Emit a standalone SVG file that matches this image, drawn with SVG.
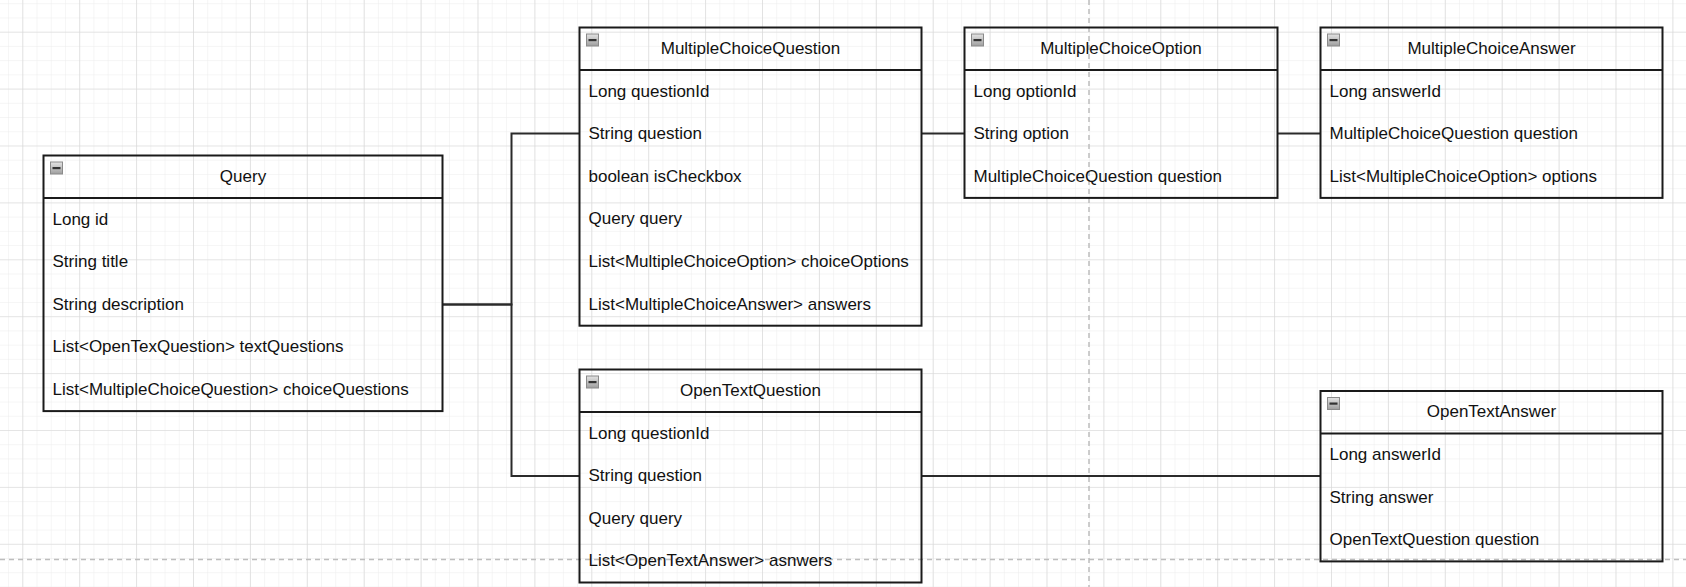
<svg xmlns="http://www.w3.org/2000/svg" width="1686" height="587" viewBox="0 0 1686 587">
  <defs>
    <pattern id="minor" x="22.3" y="31.7" width="14.225" height="14.225" patternUnits="userSpaceOnUse">
      <path d="M0 0 H14.225 M0 0 V14.225" fill="none" stroke="#ececec" stroke-width="1"/>
    </pattern>
    <pattern id="major" x="22.3" y="31.7" width="56.9" height="56.9" patternUnits="userSpaceOnUse">
      <path d="M0 0 H56.9 M0 0 V56.9" fill="none" stroke="#d6d6d6" stroke-width="1.2"/>
    </pattern>
    <linearGradient id="iconGrad" x1="0" y1="0" x2="0" y2="1">
      <stop offset="0" stop-color="#e4e4e4"/>
      <stop offset="1" stop-color="#9e9e9e"/>
    </linearGradient>
    <g id="minus">
      <rect x="0.5" y="0.5" width="12" height="12" fill="url(#iconGrad)" stroke="#8a8a8a" stroke-width="1"/>
      <rect x="2.5" y="5.5" width="8" height="2.2" fill="#333"/>
    </g>
  </defs>
  <style>
    .box { fill: none; stroke: #1a1a1a; stroke-width: 2; }
    .sep { stroke: #1a1a1a; stroke-width: 2; }
    .title { font-family: "Liberation Sans", Arial, sans-serif; font-size: 17px; fill: #111; text-anchor: middle; }
    .field { font-family: "Liberation Sans", Arial, sans-serif; font-size: 17px; fill: #111; }
    .conn { fill: none; stroke: #2a2a2a; stroke-width: 2; }
    .pb { fill: none; stroke: #bdbdbd; stroke-width: 1.5; stroke-dasharray: 5 4; }
  </style>

  <rect x="0" y="0" width="1686" height="587" fill="#ffffff"/>
  <rect x="0" y="0" width="1686" height="587" fill="url(#minor)"/>
  <rect x="0" y="0" width="1686" height="587" fill="url(#major)"/>
  <g id="page-breaks">
    <path class="pb" d="M1089 0 V587"/>
    <path class="pb" d="M0 559.5 H1686"/>
  </g>

  <g id="connectors">
    <path class="conn" d="M443 304.5 H511.5 V133.5 H579.5"/>
    <path class="conn" d="M443 304.5 H511.5 V476 H579.5"/>
    <path class="conn" d="M921.5 133.5 H964.5"/>
    <path class="conn" d="M1277.5 133.5 H1320.5"/>
    <path class="conn" d="M921.5 476 H1320.5"/>
  </g>

  <g id="Query">
    <rect class="box" x="43.5" y="155.5" width="399" height="255.6"/>
    <line class="sep" x1="43.5" y1="198.1" x2="442.5" y2="198.1"/>
    <use href="#minus" x="50" y="161.5"/>
    <text class="title" x="243" y="181.5">Query</text>
    <text class="field" x="52.5" y="224.6">Long id</text>
    <text class="field" x="52.5" y="267.2">String title</text>
    <text class="field" x="52.5" y="309.8">String description</text>
    <text class="field" x="52.5" y="352.4">List&lt;OpenTexQuestion&gt; textQuestions</text>
    <text class="field" x="52.5" y="395">List&lt;MultipleChoiceQuestion&gt; choiceQuestions</text>
  </g>

  <g id="MultipleChoiceQuestion">
    <rect class="box" x="579.5" y="27.5" width="342" height="298.2"/>
    <line class="sep" x1="579.5" y1="70.1" x2="921.5" y2="70.1"/>
    <use href="#minus" x="586" y="33.5"/>
    <text class="title" x="750.5" y="53.5">MultipleChoiceQuestion</text>
    <text class="field" x="588.5" y="96.6">Long questionId</text>
    <text class="field" x="588.5" y="139.2">String question</text>
    <text class="field" x="588.5" y="181.8">boolean isCheckbox</text>
    <text class="field" x="588.5" y="224.4">Query query</text>
    <text class="field" x="588.5" y="267">List&lt;MultipleChoiceOption&gt; choiceOptions</text>
    <text class="field" x="588.5" y="309.6">List&lt;MultipleChoiceAnswer&gt; answers</text>
  </g>

  <g id="MultipleChoiceOption">
    <rect class="box" x="964.5" y="27.5" width="313" height="170.4"/>
    <line class="sep" x1="964.5" y1="70.1" x2="1277.5" y2="70.1"/>
    <use href="#minus" x="971" y="33.5"/>
    <text class="title" x="1121" y="53.5">MultipleChoiceOption</text>
    <text class="field" x="973.5" y="96.6">Long optionId</text>
    <text class="field" x="973.5" y="139.2">String option</text>
    <text class="field" x="973.5" y="181.8">MultipleChoiceQuestion question</text>
  </g>

  <g id="MultipleChoiceAnswer">
    <rect class="box" x="1320.5" y="27.5" width="342" height="170.4"/>
    <line class="sep" x1="1320.5" y1="70.1" x2="1662.5" y2="70.1"/>
    <use href="#minus" x="1327" y="33.5"/>
    <text class="title" x="1491.5" y="53.5">MultipleChoiceAnswer</text>
    <text class="field" x="1329.5" y="96.6">Long answerId</text>
    <text class="field" x="1329.5" y="139.2">MultipleChoiceQuestion question</text>
    <text class="field" x="1329.5" y="181.8">List&lt;MultipleChoiceOption&gt; options</text>
  </g>

  <g id="OpenTextQuestion">
    <rect class="box" x="579.5" y="369.5" width="342" height="213"/>
    <line class="sep" x1="579.5" y1="412.1" x2="921.5" y2="412.1"/>
    <use href="#minus" x="586" y="375.5"/>
    <text class="title" x="750.5" y="395.5">OpenTextQuestion</text>
    <text class="field" x="588.5" y="438.6">Long questionId</text>
    <text class="field" x="588.5" y="481.2">String question</text>
    <text class="field" x="588.5" y="523.8">Query query</text>
    <text class="field" x="588.5" y="566.4">List&lt;OpenTextAnswer&gt; asnwers</text>
  </g>

  <g id="OpenTextAnswer">
    <rect class="box" x="1320.5" y="391" width="342" height="170.4"/>
    <line class="sep" x1="1320.5" y1="433.6" x2="1662.5" y2="433.6"/>
    <use href="#minus" x="1327" y="397"/>
    <text class="title" x="1491.5" y="417">OpenTextAnswer</text>
    <text class="field" x="1329.5" y="460.1">Long answerId</text>
    <text class="field" x="1329.5" y="502.7">String answer</text>
    <text class="field" x="1329.5" y="545.3">OpenTextQuestion question</text>
  </g>
</svg>
